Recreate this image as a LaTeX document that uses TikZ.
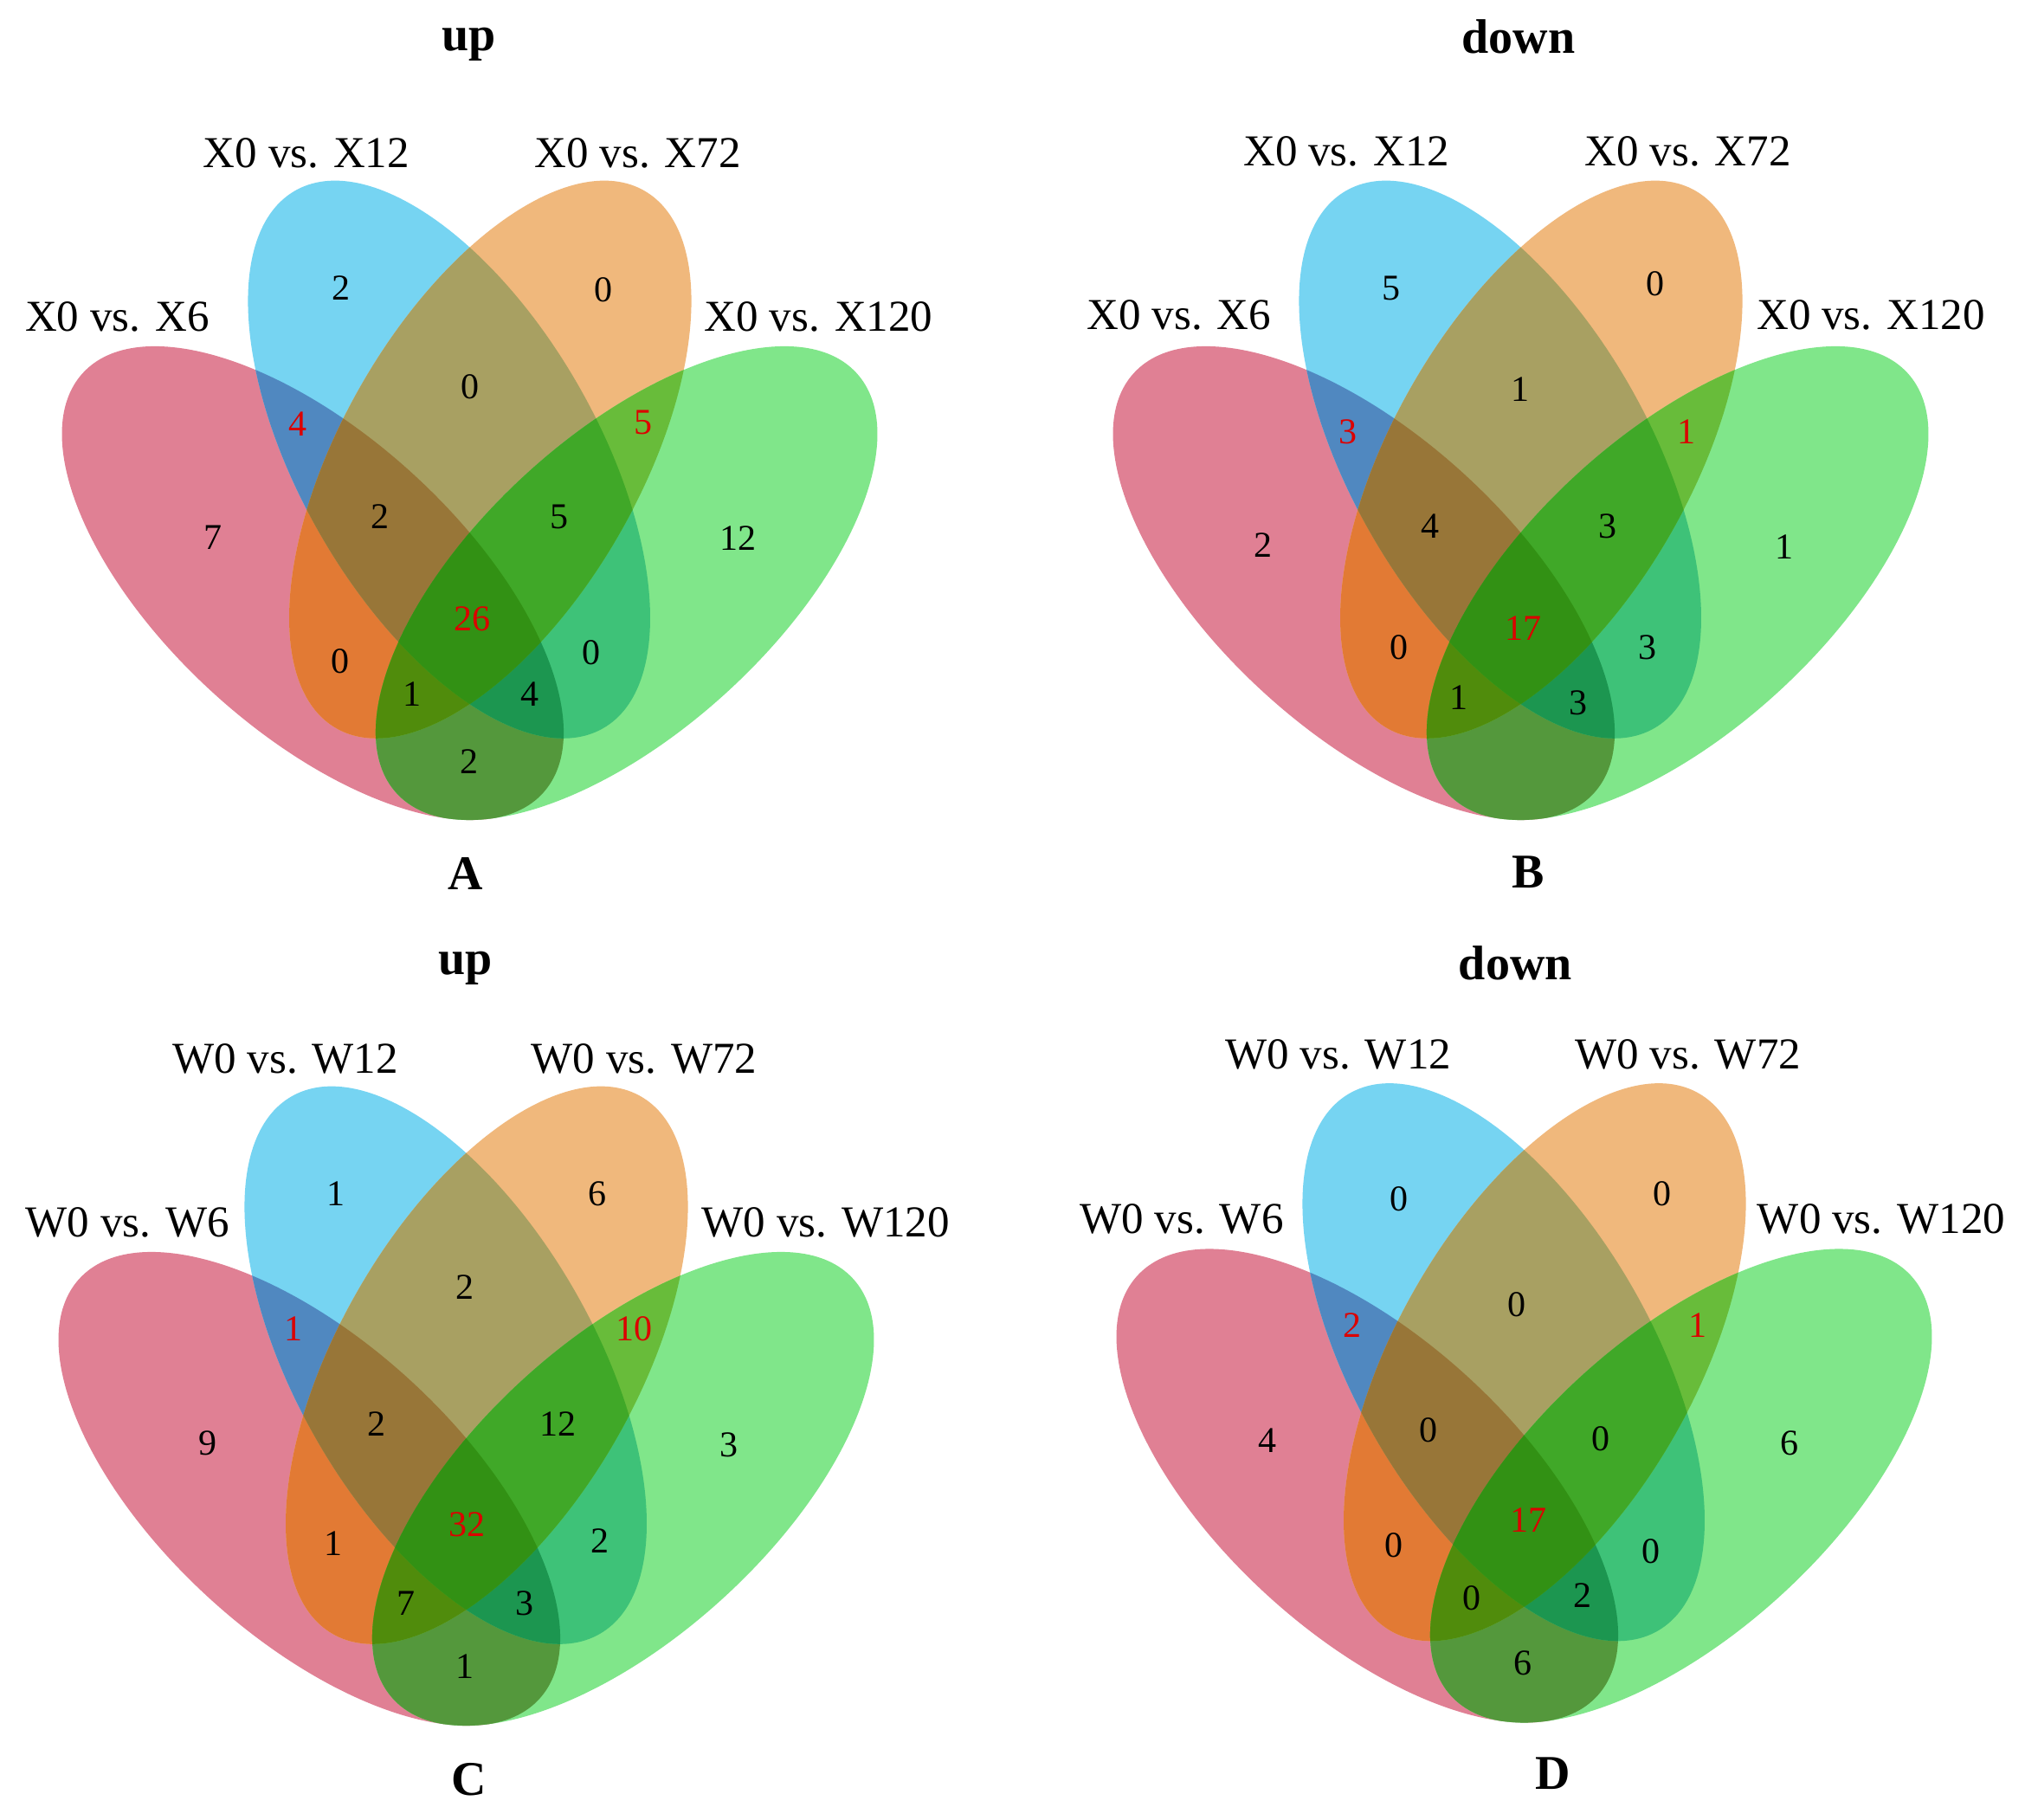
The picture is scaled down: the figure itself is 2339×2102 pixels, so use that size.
\documentclass[tikz,border=0pt]{standalone}
\usepackage{fontspec}
\setmainfont{Liberation Serif}
\definecolor{cP}{RGB}{224,128,148}
\definecolor{cB}{RGB}{118,212,242}
\definecolor{cO}{RGB}{240,184,124}
\definecolor{cG}{RGB}{128,230,138}
\definecolor{cPB}{RGB}{80,136,192}
\definecolor{cPO}{RGB}{226,122,52}
\definecolor{cPG}{RGB}{84,152,60}
\definecolor{cBO}{RGB}{168,160,98}
\definecolor{cBG}{RGB}{62,194,120}
\definecolor{cOG}{RGB}{104,188,58}
\definecolor{cPBO}{RGB}{152,118,56}
\definecolor{cPBG}{RGB}{28,150,80}
\definecolor{cPOG}{RGB}{80,140,12}
\definecolor{cBOG}{RGB}{64,168,40}
\definecolor{cAll}{RGB}{50,145,20}
\definecolor{cRed}{RGB}{220,0,0}
\newcommand\EP[2]{#1[#2,rotate around={-42.39:(361.3,673.5)}] (361.3,673.5) ellipse [x radius=359.8,y radius=171.2];}
\newcommand\EB[2]{#1[#2,rotate around={-60.18:(518.7,530.7)}] (518.7,530.7) ellipse [x radius=357.8,y radius=172.1];}
\newcommand\EO[2]{#1[#2,rotate around={-119.82:(566.3,530.7)}] (566.3,530.7) ellipse [x radius=357.8,y radius=172.1];}
\newcommand\EG[2]{#1[#2,rotate around={-137.61:(723.7,673.5)}] (723.7,673.5) ellipse [x radius=359.8,y radius=171.2];}
\newcommand\vennfills{%
 \EP\fill{cP}\EB\fill{cB}\EO\fill{cO}\EG\fill{cG}%
 \begin{scope}\EP\clip{}\EB\fill{cPB}\end{scope}%
 \begin{scope}\EP\clip{}\EO\fill{cPO}\end{scope}%
 \begin{scope}\EP\clip{}\EG\fill{cPG}\end{scope}%
 \begin{scope}\EB\clip{}\EO\fill{cBO}\end{scope}%
 \begin{scope}\EB\clip{}\EG\fill{cBG}\end{scope}%
 \begin{scope}\EO\clip{}\EG\fill{cOG}\end{scope}%
 \begin{scope}\EP\clip{}\EB\clip{}\EO\fill{cPBO}\end{scope}%
 \begin{scope}\EP\clip{}\EB\clip{}\EG\fill{cPBG}\end{scope}%
 \begin{scope}\EP\clip{}\EO\clip{}\EG\fill{cPOG}\end{scope}%
 \begin{scope}\EB\clip{}\EO\clip{}\EG\fill{cBOG}\end{scope}%
 \begin{scope}\EP\clip{}\EB\clip{}\EO\clip{}\EG\fill{cAll}\end{scope}%
}
\tikzset{
  num/.style={font=\fontsize{21}{25}\selectfont, inner sep=0pt},
  rnum/.style={num, text=cRed},
  setlab/.style={font=\fontsize{25.5}{30}\selectfont, inner sep=0pt, anchor=base},
  ttl/.style={font=\fontsize{28}{33}\selectfont\bfseries, inner sep=0pt, anchor=base},
  letter/.style={font=\fontsize{28}{33}\selectfont\bfseries, inner sep=0pt},
}
\begin{document}
\begin{tikzpicture}[x=0.5pt,y=-0.5pt]
\useasboundingbox (0,0) rectangle (2339,2102);
\fill[white] (0,0) rectangle (2339,2102);
% ---- ellipses ----
\begin{scope}\vennfills\end{scope}
\begin{scope}[shift={(1214,0)}]\vennfills\end{scope}
\begin{scope}[shift={(-4,1046)}]\vennfills\end{scope}
\begin{scope}[shift={(1218,1042.5)}]\vennfills\end{scope}
% ---- panel A ----
\node[ttl] (tA) at (541.6,58.9) {up};
\node[setlab] (lA6) at (135.4,382.5) {X0 vs. X6};
\node[setlab] (lA12) at (354,194) {X0 vs. X12};
\node[setlab] (lA72) at (736.6,194) {X0 vs. X72};
\node[setlab] (lA120) at (945.6,382.5) {X0 vs. X120};
\node[num] (aN1) at (394,332.5) {2};
\node[num] (aN2) at (697,334.5) {0};
\node[num] (aN3) at (245.5,621) {7};
\node[num] (aN4) at (852,622) {12};
\node[rnum] (aN5) at (343.7,489.7) {4};
\node[num] (aN6) at (543,447) {0};
\node[rnum] (aN7) at (742.5,488.4) {5};
\node[num] (aN8) at (439,596.7) {2};
\node[num] (aN9) at (645.8,596.7) {5};
\node[rnum] (aN10) at (545.4,714.5) {26};
\node[num] (aN11) at (392.8,764) {0};
\node[num] (aN12) at (683,754) {0};
\node[num] (aN13) at (476,801.5) {1};
\node[num] (aN14) at (611.6,801.5) {4};
\node[num] (aN15) at (541.6,879.7) {2};
\node[letter] (LA) at (538,1009) {A};
% ---- panel B ----
\node[ttl] (tB) at (1754,61.5) {down};
\node[setlab] (lB6) at (1362,381) {X0 vs. X6};
\node[setlab] (lB12) at (1555.4,192) {X0 vs. X12};
\node[setlab] (lB72) at (1949.7,192) {X0 vs. X72};
\node[setlab] (lB120) at (2161,381) {X0 vs. X120};
\node[num] (bN1) at (1606.7,332.5) {5};
\node[num] (bN2) at (1911.8,327.8) {0};
\node[num] (bN3) at (1458.7,630) {2};
\node[num] (bN4) at (2060.6,632) {1};
\node[rnum] (bN5) at (1556.9,498.4) {3};
\node[num] (bN6) at (1756.3,449.6) {1};
\node[rnum] (bN7) at (1947.5,498.4) {1};
\node[num] (bN8) at (1652,607.5) {4};
\node[num] (bN9) at (1856.7,607.5) {3};
\node[rnum] (bN10) at (1759.2,725.9) {17};
\node[num] (bN11) at (1616.4,748) {0};
\node[num] (bN12) at (1902.8,748) {3};
\node[num] (bN13) at (1684.8,806) {1};
\node[num] (bN14) at (1823.2,811.5) {3};
\node[letter] (LB) at (1765,1007) {B};
% ---- panel C ----
\node[ttl] (tC) at (537.2,1125) {up};
\node[setlab] (lC6) at (147.3,1428) {W0 vs. W6};
\node[setlab] (lC12) at (329.6,1239) {W0 vs. W12};
\node[setlab] (lC72) at (744,1239) {W0 vs. W72};
\node[setlab] (lC120) at (953.8,1428) {W0 vs. W120};
\node[num] (cN1) at (388.4,1379.1) {1};
\node[num] (cN2) at (690.4,1379.1) {6};
\node[num] (cN3) at (239.6,1666.8) {9};
\node[num] (cN4) at (842.2,1668.8) {3};
\node[rnum] (cN5) at (339.3,1535) {1};
\node[num] (cN6) at (537.2,1486.2) {2};
\node[rnum] (cN7) at (732.8,1535) {10};
\node[num] (cN8) at (435.2,1644.1) {2};
\node[num] (cN9) at (644.3,1644.1) {12};
\node[rnum] (cN10) at (539.4,1760.5) {32};
\node[num] (cN11) at (384.6,1782.6) {1};
\node[num] (cN12) at (693.4,1779.2) {2};
\node[num] (cN13) at (468.7,1851.5) {7};
\node[num] (cN14) at (606.4,1851.5) {3};
\node[num] (cN15) at (537.2,1925) {1};
\node[letter] (LC) at (541.6,2055) {C};
% ---- panel D ----
\node[ttl] (tD) at (1750.3,1131.6) {down};
\node[setlab] (lD6) at (1365,1424.5) {W0 vs. W6};
\node[setlab] (lD12) at (1545.7,1234) {W0 vs. W12};
\node[setlab] (lD72) at (1949.7,1234) {W0 vs. W72};
\node[setlab] (lD120) at (2173,1424.5) {W0 vs. W120};
\node[num] (dN1) at (1616.4,1384.5) {0};
\node[num] (dN2) at (1920,1379) {0};
\node[num] (dN3) at (1463.9,1664.1) {4};
\node[num] (dN4) at (2066.5,1666.8) {6};
\node[rnum] (dN5) at (1562,1530.3) {2};
\node[num] (dN6) at (1751.8,1507) {0};
\node[rnum] (dN7) at (1960.9,1530.3) {1};
\node[num] (dN8) at (1649.9,1652) {0};
\node[num] (dN9) at (1849.3,1662) {0};
\node[rnum] (dN10) at (1765.2,1755.8) {17};
\node[num] (dN11) at (1610.4,1784.6) {0};
\node[num] (dN12) at (1906.6,1791.3) {0};
\node[num] (dN13) at (1699.7,1846.1) {0};
\node[num] (dN14) at (1827.7,1842.8) {2};
\node[num] (dN15) at (1759.2,1921) {6};
\node[letter] (LD) at (1793.5,2048) {D};
\end{tikzpicture}
\end{document}
